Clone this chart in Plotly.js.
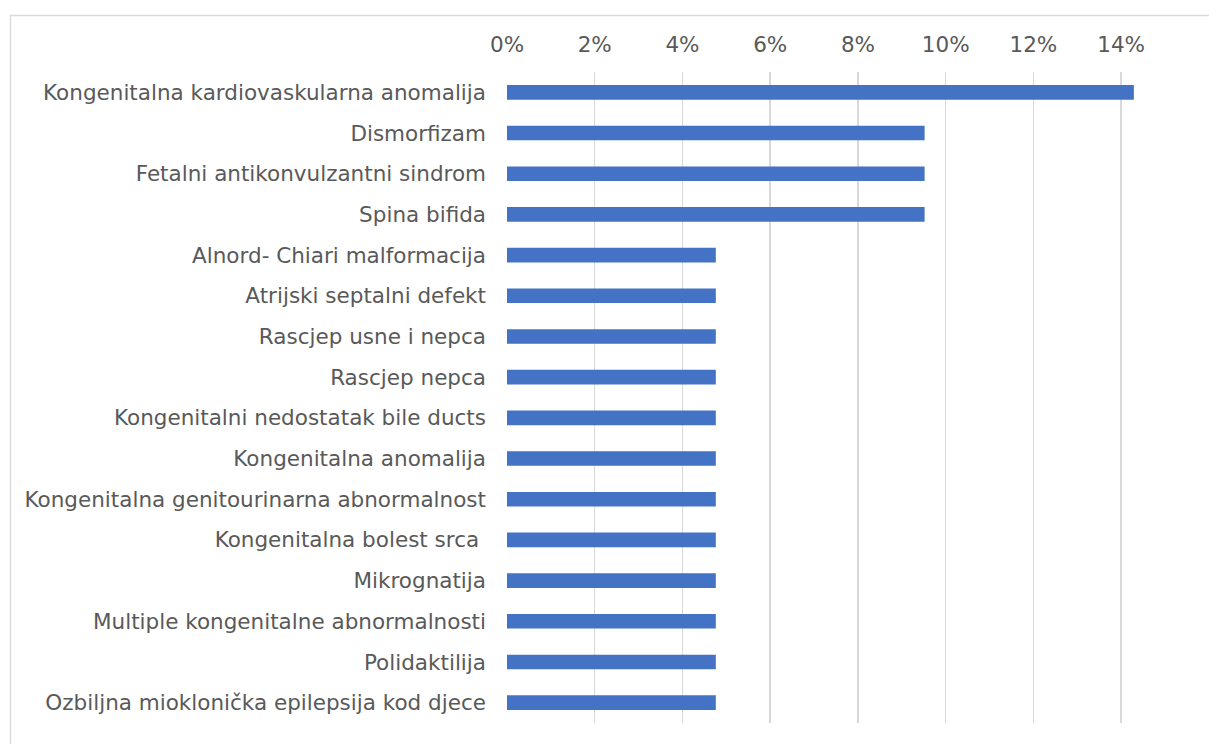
<!DOCTYPE html>
<html>
<head>
<meta charset="utf-8">
<script src="https://cdn.plot.ly/plotly-3.0.1.min.js"></script>
<style>html,body{margin:0;padding:0;background:#fff;}#chart{width:1209px;height:744px;}</style>
</head>
<body>
<div id="chart"></div>
<script>
const categories = [
  "Kongenitalna kardiovaskularna anomalija",
  "Dismorfizam",
  "Fetalni antikonvulzantni sindrom",
  "Spina bifida",
  "Alnord- Chiari malformacija",
  "Atrijski septalni defekt",
  "Rascjep usne i nepca",
  "Rascjep nepca",
  "Kongenitalni nedostatak bile ducts",
  "Kongenitalna anomalija",
  "Kongenitalna genitourinarna abnormalnost",
  "Kongenitalna bolest srca\u00a0",
  "Mikrognatija",
  "Multiple kongenitalne abnormalnosti",
  "Polidaktilija",
  "Ozbiljna mioklonička epilepsija kod djece"
];
const values = [0.1429, 0.0952, 0.0952, 0.0952, 0.0476, 0.0476, 0.0476, 0.0476,
                0.0476, 0.0476, 0.0476, 0.0476, 0.0476, 0.0476, 0.0476, 0.0476];
const tickValues = [0, 0.02, 0.04, 0.06, 0.08, 0.10, 0.12, 0.14];
const tickLabels = ["0%", "2%", "4%", "6%", "8%", "10%", "12%", "14%"];

const W = 1209, H = 744;
const L = 507, T = 72, R = 44, B = 21;
const pw = W - L - R, ph = H - T - B;
const px = x => (x - L) / pw;
const py = y => (H - B - y) / ph;

const data = [{
  type: 'bar',
  orientation: 'h',
  x: values,
  y: categories,
  marker: {color: '#4472C4'},
  hoverinfo: 'x+y'
}];

const FONT = '"DejaVu Sans", Verdana, sans-serif';

const layout = {
  width: W, height: H,
  margin: {l: L, r: R, t: T, b: B, pad: 0},
  paper_bgcolor: '#fff', plot_bgcolor: '#fff',
  font: {family: FONT, size: 21.5, color: '#595959'},
  bargap: 0.64,
  showlegend: false,
  xaxis: {
    side: 'top',
    range: [0, 0.15],
    tickvals: tickValues,
    ticktext: tickLabels,
    showgrid: true,
    gridcolor: '#d9d9d9',
    gridwidth: 1.5,
    zeroline: false,
    showline: false,
    ticks: '',
    ticklabelstandoff: 15,
    tickfont: {family: FONT, size: 21.5, color: '#595959'},
    fixedrange: true
  },
  yaxis: {
    type: 'category',
    autorange: 'reversed',
    showgrid: false,
    zeroline: false,
    showline: false,
    ticks: '',
    ticklabelstandoff: 20,
    tickfont: {family: FONT, size: 21.5, color: '#595959'},
    fixedrange: true
  },
  shapes: [{
    type: 'rect', xref: 'paper', yref: 'paper',
    x0: px(10.5), x1: px(1220), y0: py(760), y1: py(15.5),
    line: {color: '#d9d9d9', width: 1.3},
    fillcolor: 'rgba(0,0,0,0)', layer: 'below'
  }]
};

Plotly.newPlot('chart', data, layout, {displayModeBar: false, staticPlot: true});
</script>
</body>
</html>
